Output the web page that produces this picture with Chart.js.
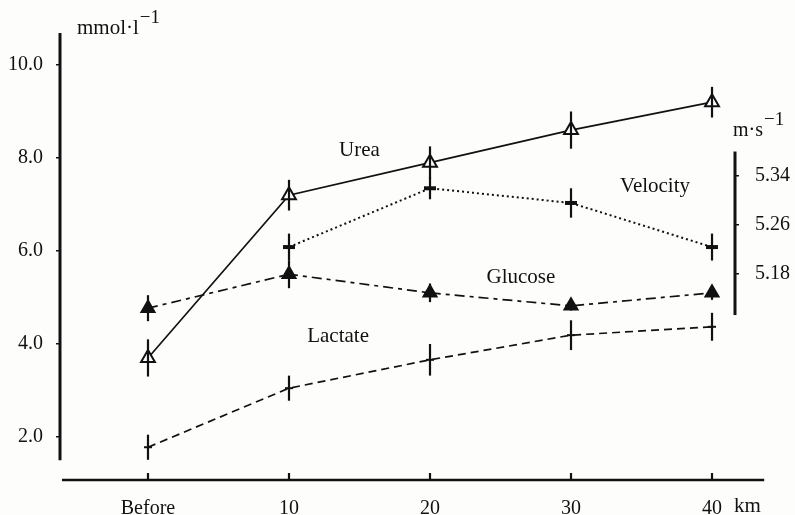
<!DOCTYPE html>
<html>
<head>
<meta charset="utf-8">
<script src="https://cdn.jsdelivr.net/npm/chart.js@4.4.1/dist/chart.umd.min.js"></script>
<style>
  html, body { margin: 0; padding: 0; background: #fdfdfc; }
  #wrap { width: 795px; height: 515px; }
</style>
</head>
<body>
<div id="wrap"><canvas id="c" width="795" height="515"></canvas></div>
<script>
// Distance markers along the run (km) and their axis labels
const distanceKm = [0, 10, 20, 30, 40];
const tickLabels = ['Before', '10', '20', '30', '40'];

// Blood metabolites, mmol·l⁻¹ (mean and error)
const urea       = [3.70, 7.20, 7.90, 8.60, 9.20];
const ureaErr    = [0.40, 0.33, 0.35, 0.40, 0.33];
const glucose    = [4.77, 5.50, 5.10, 4.82, 5.10];
const glucoseErr = [0.28, 0.30, 0.20, 0.10, 0.15];
const lactate    = [1.78, 3.05, 3.66, 4.19, 4.37];
const lactateErr = [0.27, 0.27, 0.34, 0.32, 0.30];

// Running velocity, m·s⁻¹ (no value before the start)
const velocityKm  = [10, 20, 30, 40];
const velocity    = [5.224, 5.320, 5.296, 5.224];
const velocityErr = [0.022, 0.018, 0.024, 0.022];

// Axis tick values
const leftTicks  = [2, 4, 6, 8, 10];
const rightTicks = [5.18, 5.26, 5.34];

const serif = '"Liberation Serif", "Times New Roman", serif';
const ink = '#111';

const pts = (xs, ys) => xs.map((x, i) => ({ x, y: ys[i] }));

const errorsByDataset = [ureaErr, velocityErr, glucoseErr, lactateErr];

// Error bars, axis lines, curve names and unit labels
const decorations = {
  id: 'decorations',
  afterDatasetsDraw(chart) {
    const { ctx, scales } = chart;
    ctx.save();
    ctx.strokeStyle = ink;
    ctx.lineCap = 'butt';
    chart.data.datasets.forEach((ds, di) => {
      const sc = scales[ds.yAxisID];
      const errs = errorsByDataset[di];
      ctx.lineWidth = 2.2;
      ds.data.forEach((p, i) => {
        const px = scales.x.getPixelForValue(p.x);
        ctx.beginPath();
        ctx.moveTo(px, sc.getPixelForValue(p.y + errs[i]));
        ctx.lineTo(px, sc.getPixelForValue(p.y - errs[i]));
        ctx.stroke();
      });
    });
    ctx.restore();
  },
  afterDraw(chart) {
    const { ctx, scales, chartArea } = chart;
    const { x, y, y2 } = scales;
    ctx.save();
    ctx.strokeStyle = ink;
    ctx.fillStyle = ink;

    // left axis
    ctx.lineWidth = 3;
    ctx.beginPath();
    ctx.moveTo(chartArea.left, y.getPixelForValue(y.max));
    ctx.lineTo(chartArea.left, y.getPixelForValue(1.5));
    ctx.stroke();

    // distance axis
    ctx.lineWidth = 2.5;
    ctx.beginPath();
    ctx.moveTo(x.getPixelForValue(-6.1), chartArea.bottom);
    ctx.lineTo(x.getPixelForValue(43.7), chartArea.bottom);
    ctx.stroke();
    ctx.lineWidth = 2.2;
    x.ticks.forEach(t => {
      const px = x.getPixelForValue(t.value);
      ctx.beginPath();
      ctx.moveTo(px, chartArea.bottom);
      ctx.lineTo(px, chartArea.bottom - 7);
      ctx.stroke();
    });

    // velocity axis
    ctx.lineWidth = 3;
    ctx.beginPath();
    ctx.moveTo(chartArea.right, y2.getPixelForValue(5.38));
    ctx.lineTo(chartArea.right, y2.getPixelForValue(5.113));
    ctx.stroke();

    // curve names
    ctx.font = '21px ' + serif;
    ctx.textAlign = 'center';
    ctx.textBaseline = 'middle';
    const names = [
      ['Urea', 15.0, 8.17],
      ['Velocity', 35.96, 7.38],
      ['Glucose', 26.45, 5.44],
      ['Lactate', 13.48, 4.17]
    ];
    names.forEach(([t, kx, vy]) => {
      ctx.fillText(t, x.getPixelForValue(kx), y.getPixelForValue(vy));
    });

    // units
    ctx.textAlign = 'left';
    ctx.textBaseline = 'alphabetic';
    ctx.font = '21px ' + serif;
    ctx.fillText('mmol·l', 77, 34);
    let w = ctx.measureText('mmol·l').width;
    ctx.font = '19px ' + serif;
    ctx.fillText('−1', 77 + w + 1, 23);

    ctx.font = '20px ' + serif;
    ctx.fillText('m·s', 733, 136);
    w = ctx.measureText('m·s').width;
    ctx.font = '19px ' + serif;
    ctx.fillText('−1', 733 + w + 1, 125);

    ctx.font = '21px ' + serif;
    ctx.textBaseline = 'middle';
    ctx.fillText('km', 734, 506);
    ctx.restore();
  }
};

new Chart(document.getElementById('c'), {
  type: 'line',
  data: {
    datasets: [
      {
        label: 'Urea',
        data: pts(distanceKm, urea),
        yAxisID: 'y',
        borderColor: ink,
        borderWidth: 1.7,
        pointStyle: 'triangle',
        pointRadius: 8,
        pointBackgroundColor: '#fff',
        pointBorderColor: ink,
        pointBorderWidth: 2
      },
      {
        label: 'Velocity',
        data: pts(velocityKm, velocity),
        yAxisID: 'y2',
        borderColor: ink,
        borderWidth: 2,
        borderDash: [2, 3],
        pointStyle: 'line',
        pointRadius: 6,
        pointBorderColor: ink,
        pointBorderWidth: 4
      },
      {
        label: 'Glucose',
        data: pts(distanceKm, glucose),
        yAxisID: 'y',
        borderColor: ink,
        borderWidth: 1.7,
        borderDash: [10, 5, 4, 5],
        pointStyle: 'triangle',
        pointRadius: 8,
        pointBackgroundColor: ink,
        pointBorderColor: ink,
        pointBorderWidth: 1.5
      },
      {
        label: 'Lactate',
        data: pts(distanceKm, lactate),
        yAxisID: 'y',
        borderColor: ink,
        borderWidth: 1.7,
        borderDash: [8, 5],
        pointStyle: 'line',
        pointRadius: 4,
        pointBorderColor: ink,
        pointBorderWidth: 2
      }
    ]
  },
  options: {
    responsive: false,
    devicePixelRatio: 1,
    animation: false,
    layout: { padding: { top: 33, left: 0, right: 0, bottom: 0 } },
    plugins: { legend: { display: false }, tooltip: { enabled: false } },
    elements: { line: { tension: 0, fill: false } },
    scales: {
      x: {
        type: 'linear',
        min: -6.24,
        max: 41.63,
        afterFit: s => { s.height = 35; },
        afterBuildTicks: s => { s.ticks = distanceKm.map(v => ({ value: v })); },
        grid: { display: false },
        border: { display: false },
        ticks: {
          autoSkip: false,
          maxRotation: 0,
          padding: 9,
          color: ink,
          font: { family: serif, size: 20 },
          callback: v => tickLabels[distanceKm.indexOf(v)]
        }
      },
      y: {
        position: 'left',
        min: 1.0753,
        max: 10.688,
        afterFit: s => { s.width = 60; },
        afterBuildTicks: s => { s.ticks = leftTicks.map(v => ({ value: v })); },
        grid: { display: true, drawOnChartArea: false, tickLength: 4, color: ink, lineWidth: 1.5 },
        border: { display: false },
        ticks: {
          padding: 13,
          color: ink,
          font: { family: serif, size: 20 },
          callback: v => v.toFixed(1)
        }
      },
      y2: {
        position: 'right',
        min: 4.8437,
        max: 5.5735,
        afterFit: s => { s.width = 60; },
        afterBuildTicks: s => { s.ticks = rightTicks.map(v => ({ value: v })); },
        grid: { display: true, drawOnChartArea: false, tickLength: 4, color: ink, lineWidth: 1.5 },
        border: { display: false },
        ticks: {
          padding: 16,
          color: ink,
          font: { family: serif, size: 20 },
          callback: v => v.toFixed(2)
        }
      }
    }
  },
  plugins: [decorations]
});
</script>
</body>
</html>
